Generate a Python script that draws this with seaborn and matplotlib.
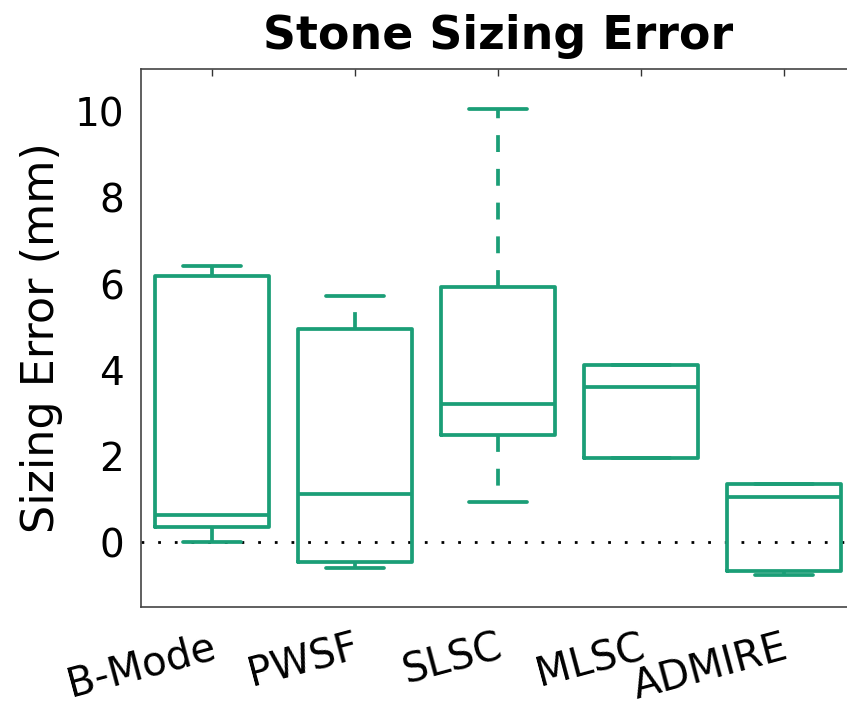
import numpy as np
import pandas as pd
import matplotlib
matplotlib.use("Agg")
import matplotlib.pyplot as plt
import matplotlib.transforms as mtransforms
import seaborn as sns

# Box statistics (mm)
methods = ["B-Mode", "PWSF", "SLSC", "MLSC", "ADMIRE"]
whisker_low = [0.00, -0.61, 0.94, 1.96, -0.77]
q1 = [0.36, -0.47, 2.48, 1.96, -0.68]
median = [0.63, 1.11, 3.22, 3.60, 1.05]
q3 = [6.19, 4.96, 5.93, 4.11, 1.35]
whisker_high = [6.43, 5.73, 10.06, 4.11, 1.35]

COLOR = "#1b9e77"

# five points per group -> quartiles and whisker ends come out exactly
rows = []
for i, m in enumerate(methods):
    for v in (whisker_low[i], q1[i], median[i], q3[i], whisker_high[i]):
        rows.append({"Method": m, "Error": v})
df = pd.DataFrame(rows)

sns.set_theme(style="white")
plt.rcParams["font.family"] = ["DejaVu Sans"]
plt.rcParams["text.color"] = "black"
plt.rcParams["axes.labelcolor"] = "black"
plt.rcParams["xtick.color"] = "black"
plt.rcParams["ytick.color"] = "black"

fig = plt.figure(figsize=(8.47, 7.03), dpi=100)
ax = fig.add_axes([0.166, 0.137, 0.844, 0.765])

# zero reference line
ax.axhline(0, color="black", lw=2, linestyle=(0, (1, 5)), zorder=0)

sns.boxplot(
    data=df, x="Method", y="Error", order=methods, ax=ax,
    color=COLOR, fill=False, whis=(0, 100), width=0.8, linewidth=2.7,
    showfliers=False,
    whiskerprops={"linestyle": (0, (4.5, 4.5))},
)

ax.set_xlim(-0.5, 4.5)
ax.set_ylim(-1.5, 11)
ax.set_yticks([0, 2, 4, 6, 8, 10])
ax.set_xlabel("")
ax.set_ylabel("Sizing Error (mm)", fontsize=32, labelpad=8, color="black")
ax.set_title("Stone Sizing Error", fontsize=33, fontweight="bold", pad=14,
             color="black")

ax.tick_params(direction="in", top=True, right=True, length=5, width=1,
               color="#333333", labelsize=28, labelcolor="black")
ax.tick_params(axis="y", pad=12)
ax.tick_params(axis="x", pad=15)
shift = mtransforms.ScaledTranslation(6 / 72, 0, fig.dpi_scale_trans)
for lbl in ax.get_xticklabels():
    lbl.set_rotation(15)
    lbl.set_ha("right")
    lbl.set_fontsize(29)
    lbl.set_transform(lbl.get_transform() + shift)

for sp in ax.spines.values():
    sp.set_visible(True)
    sp.set_color("#444444")
    sp.set_linewidth(1.2)

fig.savefig("out.png", dpi=100)
